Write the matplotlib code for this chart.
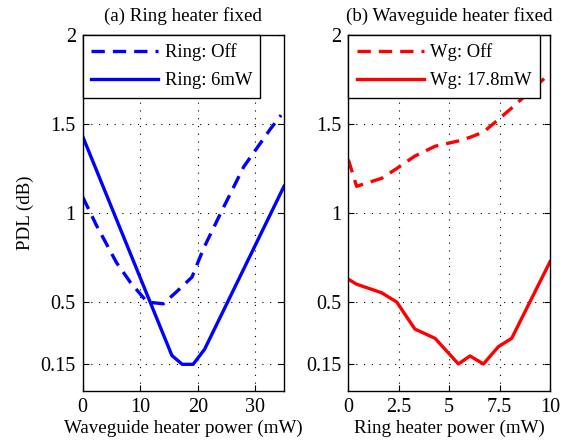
import matplotlib
matplotlib.use("Agg")
import matplotlib.pyplot as plt

# ---- data ----
# (a) Ring heater fixed: PDL vs waveguide heater power
ring_off_x = [0, 2.4, 5.9, 8.3, 11.2, 14.0, 16.4, 19.0, 21.0, 24.0, 28.0, 32.7, 34.5]
ring_off_y = [1.09, 0.93, 0.72, 0.61, 0.50, 0.49, 0.56, 0.64, 0.80, 1.00, 1.26, 1.475, 1.55]
ring_on_x = [0, 15.5, 17.3, 19.2, 21.2, 35.0]
ring_on_y = [1.43, 0.20, 0.15, 0.15, 0.235, 1.15]

# (b) Waveguide heater fixed: PDL vs ring heater power
wg_x = [0, 0.41, 1.65, 2.4, 3.3, 4.3, 5.46, 6.03, 6.7, 7.44, 8.1, 10.0]
wg_off_y = [1.30, 1.15, 1.195, 1.25, 1.32, 1.375, 1.405, 1.425, 1.455, 1.525, 1.59, 1.785]
wg_on_y = [0.628, 0.60, 0.552, 0.50, 0.348, 0.296, 0.152, 0.197, 0.152, 0.249, 0.296, 0.726]

yticks = [0.15, 0.5, 1, 1.5, 2]
yticklabels = ["0.15", "0.5", "1", "1.5", "2"]
xticks_a = [0, 10, 20, 30]
xticks_b = [0, 2.5, 5, 7.5, 10]
xticklabels_b = ["0", "2.5", "5", "7.5", "10"]

plt.rcParams['font.family'] = ['Liberation Serif', 'DejaVu Serif']

TXT = 13.7
TICK = 14.5
LEG = 13.4

fig = plt.figure(figsize=(5.72, 4.45), dpi=100)
ax1 = fig.add_axes([0.1446, 0.1213, 0.3519, 0.80])
ax2 = fig.add_axes([0.6090, 0.1213, 0.3525, 0.80])

dash = (0, (4, 2.4))
lw = 2.4

ax1.plot(ring_off_x, ring_off_y, color=(0, 0, 1), lw=lw, linestyle=dash, label="Ring: Off")
ax1.plot(ring_on_x, ring_on_y, color=(0, 0, 1), lw=lw, label="Ring: 6mW")
ax2.plot(wg_x, wg_off_y, color=(1, 0, 0), lw=lw, linestyle=dash, label="Wg: Off")
ax2.plot(wg_x, wg_on_y, color=(1, 0, 0), lw=lw, label="Wg: 17.8mW")

for ax in (ax1, ax2):
    ax.set_ylim(0, 2)
    ax.set_yticks(yticks)
    ax.set_yticklabels(yticklabels)
    ax.grid(True, color='black', linestyle=(0, (1, 6)), linewidth=0.8)
    ax.tick_params(direction='in', length=4, width=0.8, top=True, right=True,
                   labelsize=TICK, pad=5)
    for s in ax.spines.values():
        s.set_linewidth(1.0)
    leg = ax.legend(loc='upper left', borderaxespad=0, fancybox=False,
                    edgecolor='black', framealpha=1, fontsize=LEG,
                    handlelength=3.6, handletextpad=0.35, borderpad=0.45,
                    labelspacing=0.6)
    leg.get_frame().set_linewidth(1.0)

ax1.set_xlim(0, 35)
ax1.set_xticks(xticks_a)
ax2.set_xlim(0, 10)
ax2.set_xticks(xticks_b)
ax2.set_xticklabels(xticklabels_b)

ax1.set_title("(a) Ring heater fixed", fontsize=TXT, pad=10)
ax2.set_title("(b) Waveguide heater fixed", fontsize=TXT, pad=10)
ax1.set_xlabel("Waveguide heater power (mW)", fontsize=TXT, labelpad=2)
ax2.set_xlabel("Ring heater power (mW)", fontsize=TXT, labelpad=2)
ax1.set_ylabel("PDL (dB)", fontsize=TXT, labelpad=5)

fig.savefig("out.png", dpi=100)
